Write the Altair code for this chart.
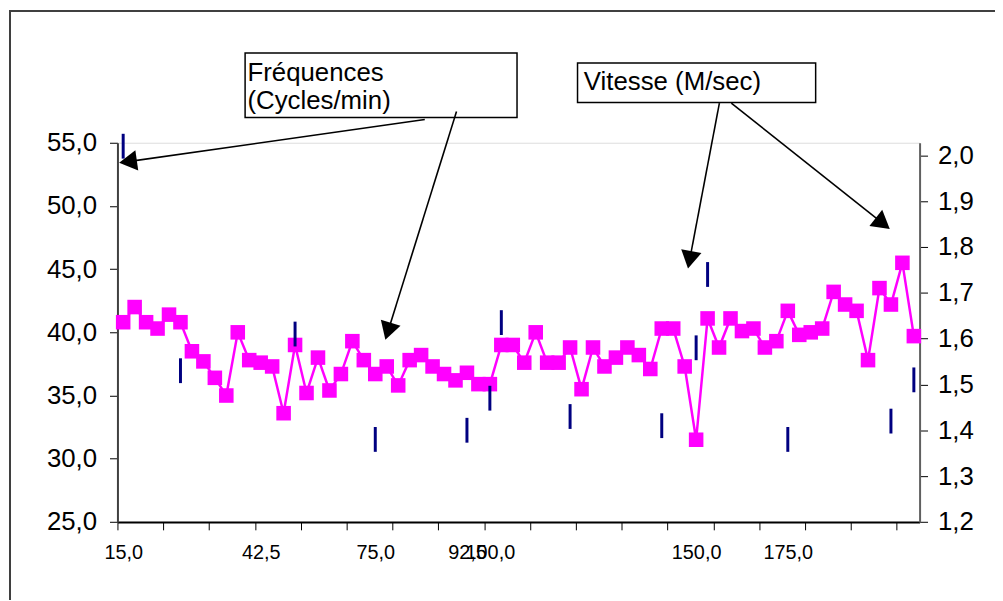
import math
import altair as alt
import pandas as pd

# ---- data ----
freq = [40.8, 42.0, 40.8, 40.3, 41.4, 40.8, 38.5, 37.7, 36.4, 35.0,
        40.0, 37.8, 37.6, 37.3, 33.6, 39.0, 35.2, 38.0, 35.4, 36.7,
        39.3, 37.8, 36.7, 37.3, 35.8, 37.8, 38.2, 37.3, 36.7, 36.2,
        36.8, 35.9, 35.9, 39.0, 39.0, 37.6, 40.0, 37.6, 37.6, 38.8,
        35.5, 38.8, 37.3, 38.0, 38.8, 38.2, 37.1, 40.3, 40.3, 37.3,
        31.5, 41.1, 38.8, 41.1, 40.1, 40.3, 38.8, 39.3, 41.7, 39.8,
        40.0, 40.3, 43.2, 42.2, 41.7, 37.8, 43.5, 42.2, 45.5, 39.7]
freq_idx = list(range(len(freq)))

vit_idx = [0, 5, 15, 22, 30, 32, 33, 39, 47, 50, 51, 58, 67, 69]
vit = [2.02, 1.53, 1.61, 1.38, 1.40, 1.47, 1.635, 1.43, 1.41, 1.58, 1.74, 1.38, 1.42, 1.51]

label_idx = [0, 12, 22, 30, 32, 50, 58]
label_txt = ["15,0", "42,5", "75,0", "92,5", "100,0", "150,0", "175,0"]
tick_pos = [-0.5 + 4 * k for k in range(18)]

left_ticks = [25, 30, 35, 40, 45, 50, 55]
right_ticks = [1.2, 1.3, 1.4, 1.5, 1.6, 1.7, 1.8, 1.9, 2.0]

# annotations (data coordinates: category index, left-axis value)
box_x0 = [10.64, 39.65]
box_x1 = [34.37, 60.43]
box_y0 = [57.0, 58.18]
box_y1 = [62.10, 61.32]

note_txt = ["Fréquences", "(Cycles/min)", "Vitesse (M/sec)"]
note_x = [10.85, 10.85, 40.2]
note_y = [59.91, 57.71, 59.2]

arr_x0 = [26.32, 29.09, 52.03, 53.07]
arr_y0 = [56.84, 57.47, 58.14, 58.14]
arr_x1 = [-0.353, 22.88, 49.29, 66.90]
arr_y1 = [53.41, 39.41, 45.04, 48.18]

# ---- layout ----
W, H = 808.4, 382.1
XD = [-0.5, 69.5]
YD = [25, 55]
YD2 = [1.2, 2.0275]
PXX = W / (XD[1] - XD[0])
PXY = H / (YD[1] - YD[0])
FONT = "Liberation Sans"
HEAD = 9.0

head_x, head_y, head_a = [], [], []
for x0, y0, x1, y1 in zip(arr_x0, arr_y0, arr_x1, arr_y1):
    dxp = (x1 - x0) * PXX
    dyp = -(y1 - y0) * PXY
    L = math.hypot(dxp, dyp)
    ux, uy = dxp / L, dyp / L
    head_a.append(math.degrees(math.atan2(ux, -uy)) % 360)
    head_x.append(x1 - HEAD * ux / PXX)
    head_y.append(y1 + HEAD * uy / PXY)

fdf = pd.DataFrame({"idx": freq_idx, "freq": freq})
vdf = pd.DataFrame({"idx": vit_idx, "vit": vit})
bdf = pd.DataFrame({"x0": box_x0, "x1": box_x1, "y0": box_y0, "y1": box_y1})
tdf = pd.DataFrame({"x": note_x, "y": note_y, "t": note_txt})
adf = pd.DataFrame({"x0": arr_x0, "y0": arr_y0, "x1": head_x, "y1": head_y})
hdf = pd.DataFrame({"x": head_x, "y": head_y, "a": head_a})

x_label_expr = "".join(f"datum.value == {i} ? '{t}' : " for i, t in zip(label_idx, label_txt)) + "''"

x_axis = alt.Axis(
    values=tick_pos + label_idx, labelExpr=x_label_expr, labelOverlap=False,
    tickOpacity={"condition": {"test": "datum.value % 1 != 0", "value": 1}, "value": 0},
    tickSize=8, tickColor="black", labelPadding=13, labelFontSize=20,
    labelFont=FONT, labelColor="black", domainColor="black", domainWidth=2,
    grid=False, title="", labelFlush=False, labelBound=False,
)
y_axis = alt.Axis(
    values=left_ticks, labelExpr="replace(format(datum.value, '.1f'), '.', ',')",
    tickSize=8, tickColor="black", labelPadding=13, labelFontSize=26,
    labelFont=FONT, labelColor="black", domainColor="#404040", domainWidth=2,
    grid=False, title="",
)
y2_axis = alt.Axis(
    orient="right", values=right_ticks,
    labelExpr="replace(format(datum.value, '.1f'), '.', ',')",
    tickSize=8, tickColor="black", labelPadding=10, labelFontSize=26,
    labelFont=FONT, labelColor="black", domainColor="#606060", domainWidth=2,
    grid=False, title="",
)

xs = alt.Scale(domain=XD, nice=False, zero=False)
ys = alt.Scale(domain=YD, nice=False, zero=False)
ys2 = alt.Scale(domain=YD2, nice=False, zero=False)


def X(f):
    return alt.X(f, type="quantitative", scale=xs, axis=x_axis)


def Y(f):
    return alt.Y(f, type="quantitative", scale=ys, axis=y_axis)


line = alt.Chart(fdf).mark_line(color="#FF00FF", strokeWidth=2.5).encode(x=X("idx"), y=Y("freq"))
pts = alt.Chart(fdf).mark_point(shape="square", filled=True, size=215, color="#FF00FF", opacity=1).encode(
    x=X("idx"), y=Y("freq"))
boxes = alt.Chart(bdf).mark_rect(fill="white", stroke="black", strokeWidth=1.5).encode(
    x=X("x0"), x2="x1", y=Y("y0"), y2="y1")
notes = alt.Chart(tdf).mark_text(align="left", baseline="alphabetic", fontSize=26, font=FONT, color="black").encode(
    x=X("x"), y=Y("y"), text="t:N")
arrows = alt.Chart(adf).mark_rule(color="black", strokeWidth=1.6).encode(
    x=X("x0"), x2="x1", y=Y("y0"), y2="y1")
heads = alt.Chart(hdf).mark_point(shape="triangle-up", filled=True, size=430, color="black", opacity=1).encode(
    x=X("x"), y=Y("y"), angle=alt.Angle("a:Q", scale=None))
frame_v = alt.Chart(fdf).mark_rule(color="#404040", strokeWidth=1.5).encode(
    x=alt.value(-108.3), y=alt.value(-133.5), y2=alt.value(460))
frame_h = alt.Chart(fdf).mark_rule(color="#404040", strokeWidth=1.5).encode(
    x=alt.value(-108.3), x2=alt.value(885), y=alt.value(-132.8))

left = alt.layer(line, pts, boxes, notes, arrows, heads, frame_v, frame_h)

blue = alt.Chart(vdf).mark_tick(orient="vertical", size=25, thickness=3, color="#000080", opacity=1).encode(
    x=X("idx"), y=alt.Y("vit", type="quantitative", scale=ys2, axis=y2_axis))

chart = (
    alt.layer(left, blue)
    .resolve_scale(y="independent")
    .properties(
        width=W, height=H,
        autosize=alt.AutoSizeParams(type="none"),
        padding={"left": 110.3, "top": 133.5, "right": 76, "bottom": 77},
        background="white",
    )
    .configure_view(stroke="#808080", strokeWidth=2)
    .configure(font=FONT)
)

chart.save("out.html", embed_options={"renderer": "svg", "actions": False})
